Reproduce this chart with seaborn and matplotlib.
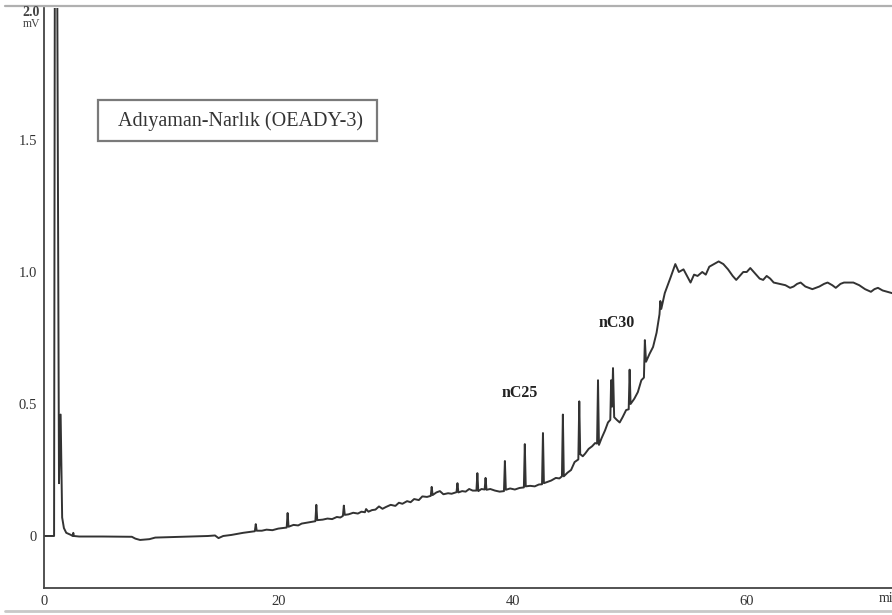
import matplotlib
matplotlib.use("Agg")
import matplotlib.pyplot as plt
import matplotlib.patches as mpatches
from matplotlib.lines import Line2D
import seaborn as sns
import pandas as pd

# ---- data (time in min, signal in mV) ----
solvent_time = [0.0, 0.86, 0.98, 1.28, 1.42, 1.55, 1.7, 1.9, 2.3, 2.45, 2.5, 2.55]
solvent_signal = [0.0, 0.0, 4.0, 0.2, 0.46, 0.07, 0.03, 0.012, 0.004, 0.0, 0.012, 0.0]

early_time = [3.0, 5.0, 7.5, 7.8, 8.2, 9.0, 9.5, 11.0, 14.0, 14.6, 14.9, 15.3, 16.0,
              16.5, 17.0, 17.5, 18.0, 18.08, 18.16, 18.6, 19.0, 19.5, 20.0, 20.4,
              20.72, 20.8, 20.88, 21.3, 21.7, 22.0, 22.4, 22.8, 23.17, 23.25, 23.33,
              23.8, 24.2, 24.6, 25.0, 25.3, 25.52, 25.6, 25.68, 26.0, 26.4, 26.8,
              27.1, 27.4, 27.5, 27.7, 28.0, 28.3, 28.6, 28.9, 29.2, 29.6, 30.0,
              30.3, 30.6, 31.0, 31.3, 31.6, 32.0, 32.3, 32.7]
early_signal = [-0.002, -0.002, -0.003, -0.01, -0.015, -0.012, -0.006, -0.004, 0.0,
                0.002, -0.008, 0.0, 0.004, 0.008, 0.012, 0.015, 0.018, 0.045, 0.02,
                0.02, 0.024, 0.022, 0.028, 0.03, 0.032, 0.087, 0.035, 0.042, 0.04,
                0.047, 0.05, 0.053, 0.056, 0.118, 0.06, 0.062, 0.066, 0.064, 0.072,
                0.07, 0.076, 0.115, 0.08, 0.082, 0.088, 0.085, 0.092, 0.09, 0.102,
                0.092, 0.098, 0.1, 0.112, 0.103, 0.11, 0.118, 0.114, 0.126, 0.122,
                0.132, 0.128, 0.14, 0.136, 0.15, 0.148]

alkane_time = [33.02, 33.1, 33.18, 33.5, 33.8, 34.1, 34.5, 34.8, 35.22, 35.3, 35.38,
               35.7, 36.0, 36.3, 36.6, 36.92, 37.0, 37.08, 37.35, 37.62, 37.7,
               37.78, 38.1, 38.5, 38.9, 39.27, 39.35, 39.43, 39.8, 40.2, 40.6,
               40.97, 41.05, 41.13, 41.5, 41.9, 42.25, 42.52, 42.6, 42.68, 43.0,
               43.3, 43.7, 44.0, 44.22, 44.3, 44.38, 44.7, 45.0, 45.3, 45.62, 45.7,
               45.78, 46.0, 46.2, 46.5, 46.8, 47.05, 47.22, 47.3, 47.38, 47.6,
               47.9, 48.15, 48.35, 48.42, 48.5, 48.58, 48.68, 48.9, 49.15, 49.4,
               49.7, 49.92, 50.0, 50.08, 50.4, 50.7, 51.0, 51.22, 51.3, 51.4,
               51.7, 52.0, 52.3, 52.55, 52.62, 52.7, 53.0, 53.5, 53.9]
alkane_signal = [0.152, 0.186, 0.155, 0.165, 0.17, 0.158, 0.162, 0.16, 0.166,
                 0.20, 0.165, 0.17, 0.168, 0.178, 0.172, 0.172, 0.238, 0.17,
                 0.178, 0.176, 0.22, 0.175, 0.178, 0.172, 0.168, 0.17, 0.284,
                 0.175, 0.18, 0.176, 0.182, 0.184, 0.348, 0.188, 0.19, 0.188,
                 0.195, 0.196, 0.39, 0.2, 0.205, 0.21, 0.22, 0.218, 0.226, 0.46,
                 0.226, 0.24, 0.25, 0.28, 0.29, 0.51, 0.31, 0.302, 0.312, 0.33,
                 0.34, 0.352, 0.35, 0.59, 0.345, 0.37, 0.40, 0.43, 0.44, 0.59,
                 0.49, 0.636, 0.45, 0.44, 0.43, 0.45, 0.477, 0.48, 0.63, 0.50,
                 0.52, 0.545, 0.59, 0.6, 0.742, 0.66, 0.69, 0.716, 0.77, 0.84,
                 0.89, 0.86, 0.92, 0.98, 1.03]

hump_time = [54.2, 54.6, 55.2, 55.5, 55.8, 56.2, 56.5, 56.8, 57.2, 57.6, 58.0,
             58.4, 58.8, 59.1, 59.4, 59.7, 60.0, 60.3, 60.8, 61.1, 61.4, 61.7,
             62.0, 62.3, 62.8, 63.3, 63.7, 64.0, 64.3, 64.6, 65.0, 65.6, 66.2,
             66.6, 66.9, 67.3, 67.6, 68.0, 68.3, 68.8, 69.1, 69.6, 70.1, 70.6,
             70.9, 71.2, 71.6, 72.0, 72.4]
hump_signal = [1.0, 1.01, 0.96, 0.99, 0.985, 1.0, 0.99, 1.02, 1.03, 1.04, 1.03,
               1.01, 0.985, 0.97, 0.985, 1.0, 1.0, 1.015, 0.99, 0.975, 0.97, 0.985,
               0.975, 0.96, 0.955, 0.95, 0.94, 0.945, 0.955, 0.96, 0.945, 0.935,
               0.945, 0.955, 0.96, 0.95, 0.94, 0.955, 0.96, 0.96, 0.96, 0.95,
               0.935, 0.925, 0.935, 0.94, 0.93, 0.925, 0.92]

x_ticks = [0, 20, 40, 60]
y_ticks = [0, 0.5, 1.0, 1.5, 2.0]
y_tick_labels = ["0", "0.5", "1.0", "1.5", ""]
title_text = "Adıyaman-Narlık (OEADY-3)"
peak_labels = ["nC25", "nC30"]
peak_label_x = [40.65, 48.9]
peak_label_y = [0.54, 0.807]

df = pd.DataFrame({
    "time": solvent_time + early_time + alkane_time + hump_time,
    "signal": solvent_signal + early_signal + alkane_signal + hump_signal,
})

sns.set_theme(style="white")
plt.rcParams["font.family"] = ["Liberation Serif", "DejaVu Serif"]

W, H = 892, 615
fig = plt.figure(figsize=(W / 100, H / 100), dpi=100)
ax = fig.add_axes([44 / W, (H - 588) / H, 848 / W, 580 / H])

sns.lineplot(data=df, x="time", y="signal", ax=ax, sort=False, estimator=None,
             color="#333333", linewidth=1.4)

ax.set_xlim(0, 72.4)
ax.set_ylim(-0.197, 2.0)
ax.set_xlabel("")
ax.set_ylabel("")
ax.set_xticks(x_ticks)
ax.set_xticklabels([str(v) for v in x_ticks])
ax.set_yticks(y_ticks)
ax.set_yticklabels(y_tick_labels)
ax.tick_params(axis="x", direction="in", length=3, width=1, colors="#444444",
               labelsize=10.5, pad=5, labelcolor="#333333")
ax.tick_params(axis="y", direction="out", length=4, width=1, colors="#444444",
               labelsize=10.5, pad=1, labelcolor="#333333")

for side in ["left", "bottom"]:
    ax.spines[side].set_color("#444444")
    ax.spines[side].set_linewidth(1.3)
ax.spines["right"].set_visible(False)
ax.spines["top"].set_visible(False)

# image border lines (top and bottom)
fig.add_artist(Line2D([5 / W, 1], [1 - 6 / H, 1 - 6 / H], color="#b0b0b0",
                      linewidth=1.6, transform=fig.transFigure))
fig.add_artist(Line2D([5 / W, 1], [1 - 611 / H, 1 - 611 / H], color="#c8c8c8",
                      linewidth=2.0, transform=fig.transFigure))

# top label "2.0 / mV"
fig.text(40 / W, 1 - 12 / H, "2.0", ha="right", va="center", fontsize=10,
         fontweight="bold", color="#444444")
fig.text(40 / W, 1 - 24 / H, "mV", ha="right", va="center", fontsize=8.5,
         color="#444444")

# x unit label, cut by the right edge as in the original
fig.text(879 / W, 1 - 598 / H, "min", ha="left", va="center", fontsize=10,
         color="#333333")

# title box
fig.add_artist(mpatches.Rectangle((98 / W, 1 - 141 / H), 279 / W, 41 / H,
                                  transform=fig.transFigure, fill=False,
                                  edgecolor="#7a7a7a", linewidth=1.6))
fig.text(241 / W, 1 - 121 / H, title_text, ha="center", va="center",
         fontsize=14.5, color="#333333")

for lab, xv, yv in zip(peak_labels, peak_label_x, peak_label_y):
    ax.text(xv, yv, lab, ha="center", va="center", fontsize=11.5,
            fontweight="bold", color="#222222")

fig.savefig("out.png", dpi=100)
